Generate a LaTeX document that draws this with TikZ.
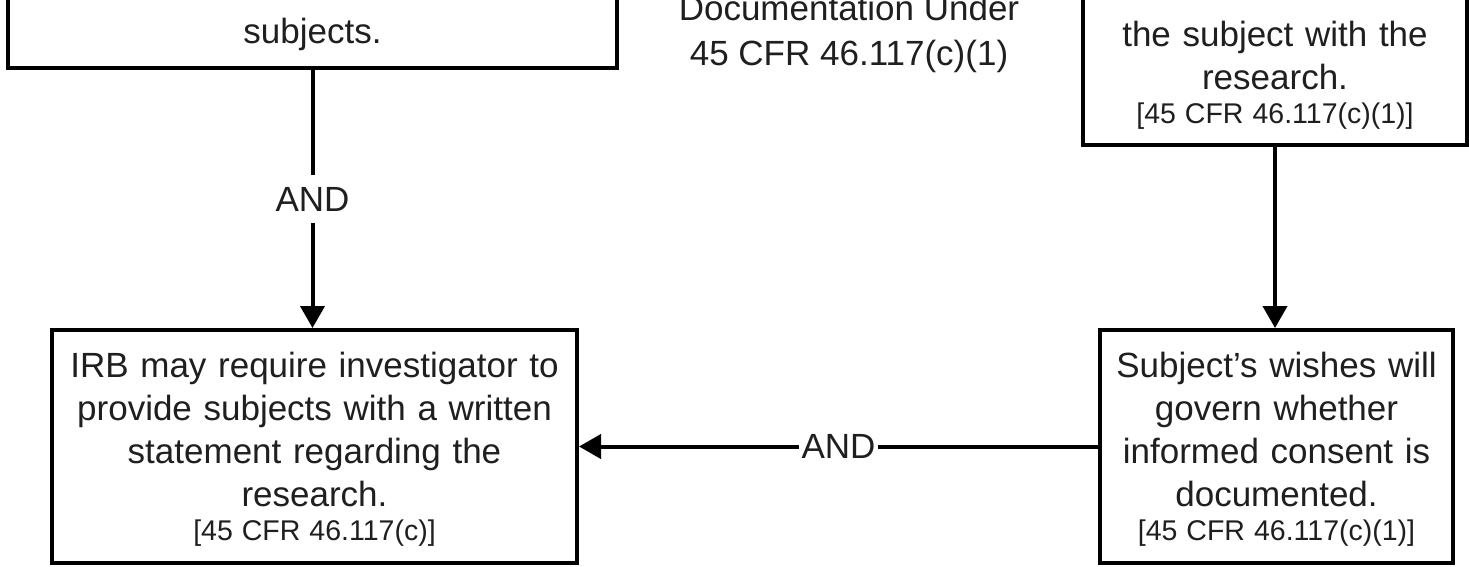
\documentclass[tikz,border=0pt]{standalone}
\usepackage{fontspec}
\setmainfont{Liberation Sans}
\usetikzlibrary{arrows.meta}
\newcommand{\myreffont}{\fontsize{28.5}{43}\selectfont\spaceskip=9pt\relax}
\begin{document}
\begin{tikzpicture}[x=1pt,y=-1pt,
  box/.style={draw=black, line width=4pt, fill=white, align=center, inner sep=0pt,
              text=black!88, font=\fontsize{35}{43}\selectfont},
  conn/.style={draw=black, line width=4pt, -{Triangle[length=22pt,width=24pt]}},
  lbl/.style={fill=white, inner xsep=3pt, inner ysep=12pt, text=black!88,
              font=\fontsize{35}{43}\selectfont}]
\useasboundingbox (0,0) rectangle (1469,566);

% top-left box (cut by the top edge)
\node[box, text width=590pt, minimum width=609pt, inner ysep=17pt, anchor=south] (tl) at (312.5,70)
  {\rule{0pt}{70pt}subjects.};

% centre title (cut by the top edge)
\node[align=center, inner sep=0pt, text=black!88, font=\fontsize{35}{45}\selectfont] (title) at (849,33.5)
  {Documentation Under\\45 CFR 46.117(c)(1)};

% top-right box (cut by the top edge)
\node[box, text width=360pt, minimum width=384pt, inner ysep=16pt, anchor=south] (tr) at (1275,147)
  {\rule{0pt}{80pt}the subject with the\\research.\\[-9pt]\mbox{\myreffont [45 CFR 46.117(c)(1)]}};

% bottom-left box
\node[box, minimum width=525pt, minimum height=233pt, text width=515pt] (bl) at (314.5,446.5)
  {\rule{0pt}{31pt}IRB may require investigator to\\provide subjects with a written\\statement regarding the\\research.\\[-9pt]\mbox{\myreffont [45 CFR 46.117(c)]}};

% bottom-right box
\node[box, minimum width=353pt, minimum height=233pt, text width=345pt] (br) at (1276.5,446.5)
  {\rule{0pt}{31pt}Subject’s wishes will\\govern whether\\informed consent is\\documented.\\[-9pt]\mbox{\myreffont [45 CFR 46.117(c)(1)]}};

% connectors
\draw[conn] (tl.south) -- node[lbl] (and1) {AND} (tl.south |- bl.north);
\draw[conn] (tr.south) -- (tr.south |- br.north);
\draw[conn] (br.west) -- node[lbl] (and2) {AND} (bl.east);
\end{tikzpicture}
\end{document}
